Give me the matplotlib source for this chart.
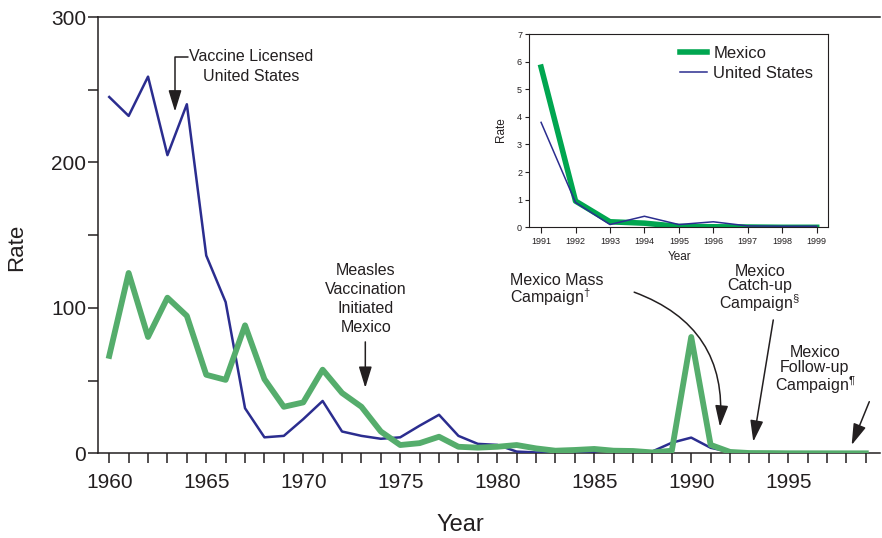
import matplotlib
matplotlib.use('Agg')
import matplotlib.pyplot as plt

plt.rcParams['font.family'] = ['Liberation Sans', 'DejaVu Sans']
plt.rcParams['mathtext.fontset'] = 'custom'
plt.rcParams['mathtext.rm'] = 'Liberation Sans'

# measles incidence per 100,000
years = list(range(1960, 2000))
us_rate = [245, 232, 259, 205, 240, 136, 104, 31, 11, 12,
           23.5, 36, 15, 12, 10, 11, 19, 26.5, 12, 6.5,
           5.8, 1.2, 0.6, 0.6, 1.1, 1.2, 2.6, 1.5, 1.3, 7.3,
           10.8, 3.8, 0.9, 0.1, 0.4, 0.1, 0.2, 0.05, 0.04, 0.04]
mex_rate = [67, 124, 80, 107, 94.5, 54, 50.5, 88, 51, 32,
            35, 57.5, 41.5, 32, 15, 5.7, 7, 11.4, 4.5, 3.9,
            4.5, 5.7, 3.4, 1.8, 2.3, 3.0, 1.8, 1.6, 0.6, 1.8,
            80, 5.8, 0.95, 0.2, 0.15, 0.03, 0.02, 0.01, 0, 0]
inset_start = 1991

ink = '#231f20'
blue = '#2b2d8f'
green = '#55ad6c'
green_inset = '#00a650'

fig = plt.figure(figsize=(8.82, 5.38), dpi=100)
ax = fig.add_axes([0.1111, 0.1574, 0.8866, 0.811])

ax.plot(years, us_rate, color=blue, lw=1.8, zorder=3)
ax.plot(years, mex_rate, color=green, lw=4.2, zorder=4)

ax.set_xlim(1959.42, 1999.73)
ax.set_ylim(0, 300)
ax.set_xticks(range(1960, 2000, 5))
ax.set_xticks(years, minor=True)
ax.set_yticks([0, 100, 200, 300])
ax.set_yticks([50, 150, 250], minor=True)
ax.tick_params(which='both', direction='out', length=7, width=1.1, color=ink,
               labelsize=15, labelcolor=ink)
ax.tick_params(axis='x', which='both', pad=7)
ax.tick_params(axis='y', which='both', pad=1.5)
ax.spines['right'].set_visible(False)
for s in ['left', 'bottom', 'top']:
    ax.spines[s].set_color(ink)
    ax.spines[s].set_linewidth(1.1)

fig.text(460 / 882, 1 - 525 / 538, 'Year', ha='center', va='center', fontsize=17, color=ink)
fig.text(17 / 882, 1 - 247 / 538, 'Rate', ha='center', va='center', rotation=90,
         fontsize=16, color=ink)

# annotations
afont = dict(fontsize=11.5, color=ink)
head = dict(arrowstyle='-|>,head_length=0.65,head_width=0.2', color=ink, lw=1.1,
            mutation_scale=20, shrinkA=0, shrinkB=0)

ax.text(1967.3, 266, 'Vaccine Licensed\nUnited States', ha='center', va='center',
        linespacing=1.35, **afont)
ax.annotate('', xy=(1963.39, 235), xytext=(1964.06, 272.7),
            arrowprops=dict(connectionstyle='angle,angleA=0,angleB=90,rad=0', **head))

ax.text(1973.23, 106, 'Measles\nVaccination\nInitiated\nMexico', ha='center', va='center',
        linespacing=1.35, **afont)
ax.annotate('', xy=(1973.2, 45), xytext=(1973.2, 76.6), arrowprops=head)

ax.text(1980.66, 112, 'Mexico Mass\nCampaign$^{\\dagger}$', ha='left', va='center',
        linespacing=0.85, **afont)
ax.annotate('', xy=(1991.48, 18.3), xytext=(1987.06, 110.8),
            arrowprops=dict(connectionstyle='arc3,rad=-0.38', **head))

ax.text(1993.53, 113, 'Mexico\nCatch-up\nCampaign$^{\\S}$', ha='center', va='center',
        linespacing=0.95, **afont)
ax.annotate('', xy=(1993.2, 8.0), xytext=(1994.23, 91.7), arrowprops=head)

ax.text(1996.37, 57, 'Mexico\nFollow-up\nCampaign$^{\\P}$', ha='center', va='center',
        linespacing=0.95, **afont)
ax.annotate('', xy=(1998.27, 5.7), xytext=(1999.18, 35.5), arrowprops=head)

# inset 1991-1999
i0 = years.index(inset_start)
axi = fig.add_axes([0.5998, 0.5775, 0.339, 0.3593])
axi.plot(years[i0:], mex_rate[i0:], color=green_inset, lw=4, label='Mexico')
axi.plot(years[i0:], us_rate[i0:], color=blue, lw=1.1, label='United States')
axi.set_xlim(1990.65, 1999.33)
axi.set_ylim(0, 7)
axi.set_xticks(years[i0:])
axi.set_yticks(range(0, 8))
axi.tick_params(axis='x', direction='out', length=4.3, width=0.8, color=ink,
                labelsize=6.5, labelcolor=ink, pad=3)
axi.tick_params(axis='y', direction='out', length=3, width=0.8, color=ink,
                labelsize=6.5, labelcolor=ink, pad=2)
for s in axi.spines.values():
    s.set_color(ink)
    s.set_linewidth(0.8)
fig.text(680 / 882, 1 - 257 / 538, 'Year', ha='center', va='center', fontsize=8.5, color=ink)
fig.text(501 / 882, 1 - 130 / 538, 'Rate', ha='center', va='center', rotation=90,
         fontsize=8.5, color=ink)
axi.legend(loc='upper left', bbox_to_anchor=(0.505, 0.94), frameon=False, fontsize=12,
           handlelength=1.6, handletextpad=0.4, labelspacing=0.3, borderpad=0,
           borderaxespad=0, labelcolor=ink)

fig.savefig('out.png', dpi=100)
